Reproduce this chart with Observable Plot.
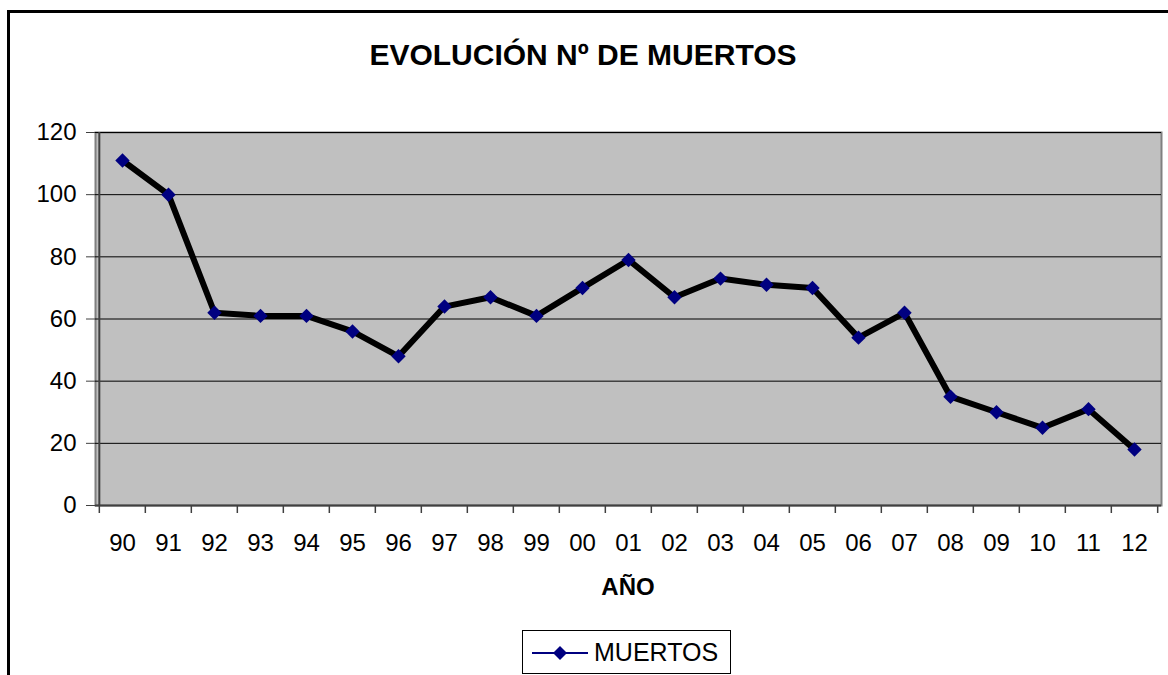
<!DOCTYPE html>
<html>
<head>
<meta charset="utf-8">
<script src="https://cdn.jsdelivr.net/npm/d3@7"></script>
<script src="https://cdn.jsdelivr.net/npm/@observablehq/plot@0.6"></script>
<style>
  html, body { margin: 0; padding: 0; background: #fff; }
  #wrap { position: relative; width: 1168px; height: 675px; overflow: hidden; font-family: Arial, "Liberation Sans", sans-serif; color: #000; }
  #border { position: absolute; left: 7px; top: 10px; width: 1200px; height: 700px; border-left: 3px solid #000; border-top: 3px solid #000; }
  #title { position: absolute; left: 0; width: 1166px; top: 40px; text-align: center; font-weight: bold; font-size: 30px; line-height: 30px; white-space: nowrap; }
  #xlabel { position: absolute; left: 95px; width: 1066px; top: 575px; text-align: center; font-weight: bold; font-size: 24px; line-height: 24px; }
  #chart { position: absolute; left: 0; top: 0; }
  #legend { position: absolute; left: 522px; top: 630px; width: 209px; height: 44px; box-sizing: border-box; border: 1px solid #000; background: #fff; }
  #legend svg { position: absolute; left: 8px; top: 12px; }
  #legend span { position: absolute; left: 71px; top: 9px; font-size: 25px; line-height: 25px; white-space: nowrap; }
</style>
</head>
<body>
<div id="wrap">
  <div id="border"></div>
  <div id="chart"></div>
  <div id="title">EVOLUCIÓN Nº DE MUERTOS</div>
  <div id="xlabel">AÑO</div>
  <div id="legend">
    <svg width="60" height="20" viewBox="0 0 60 20">
      <line x1="1" y1="10" x2="57" y2="10" stroke="#000080" stroke-width="2"></line>
      <path d="M29,3 L36,10 L29,17 L22,10 Z" fill="#000080"></path>
    </svg>
    <span>MUERTOS</span>
  </div>
</div>
<script>
const years = ["90","91","92","93","94","95","96","97","98","99","00","01","02","03","04","05","06","07","08","09","10","11","12"];
const muertos = [111,100,62,61,61,56,48,64,67,61,70,79,67,73,71,70,54,62,35,30,25,31,18];
const yTicks = [0,20,40,60,80,100,120];
const seriesName = "MUERTOS";

const data = years.map((y, i) => ({year: y, value: muertos[i]}));

const W = 1168, H = 560, mL = 95, mR = 7, mT = 132, mB = 55;
const step = (W - mL - mR) / years.length;

const chart = Plot.plot({
  width: W, height: H,
  marginLeft: mL, marginRight: mR, marginTop: mT, marginBottom: mB,
  style: {fontFamily: 'Arial, "Liberation Sans", sans-serif', fontSize: "24px", color: "#000", background: "transparent", overflow: "visible"},
  x: {type: "point", domain: years, padding: 0.5, align: 0.5},
  y: {domain: [0, 120]},
  marks: [
    Plot.frame({fill: "#C0C0C0", stroke: "#808080", strokeWidth: 2}),
    Plot.gridY(yTicks.filter(d => d > 0), {stroke: "#000", strokeOpacity: 1, strokeWidth: 1}),
    Plot.ruleX([years[0]], {dx: -step / 2, stroke: "#404040", strokeWidth: 2}),
    Plot.ruleY([0], {stroke: "#404040", strokeWidth: 2}),
    Plot.ruleX(years, {x: d => d, dx: -step / 2, y1: 0, y2: 0, insetBottom: -8, stroke: "#404040", strokeWidth: 1.5}),
    Plot.ruleX([years[years.length - 1]], {x: d => d, dx: step / 2, y1: 0, y2: 0, insetBottom: -8, stroke: "#404040", strokeWidth: 1.5}),
    Plot.axisY({ticks: yTicks, tickSize: 9, tickPadding: 10, label: null, stroke: "#404040", fill: "#000"}),
    Plot.axisX({tickSize: 0, tickPadding: 28, label: null, fill: "#000"}),
    Plot.line(data, {x: "year", y: "value", stroke: "#000", strokeWidth: 6, strokeLinejoin: "round"}),
    Plot.dot(data, {x: "year", y: "value", symbol: "diamond2", r: 6.5, fill: "#000080", stroke: "none", title: d => seriesName + ": " + d.value})
  ]
});
document.getElementById("chart").appendChild(chart);
</script>
</body>
</html>
